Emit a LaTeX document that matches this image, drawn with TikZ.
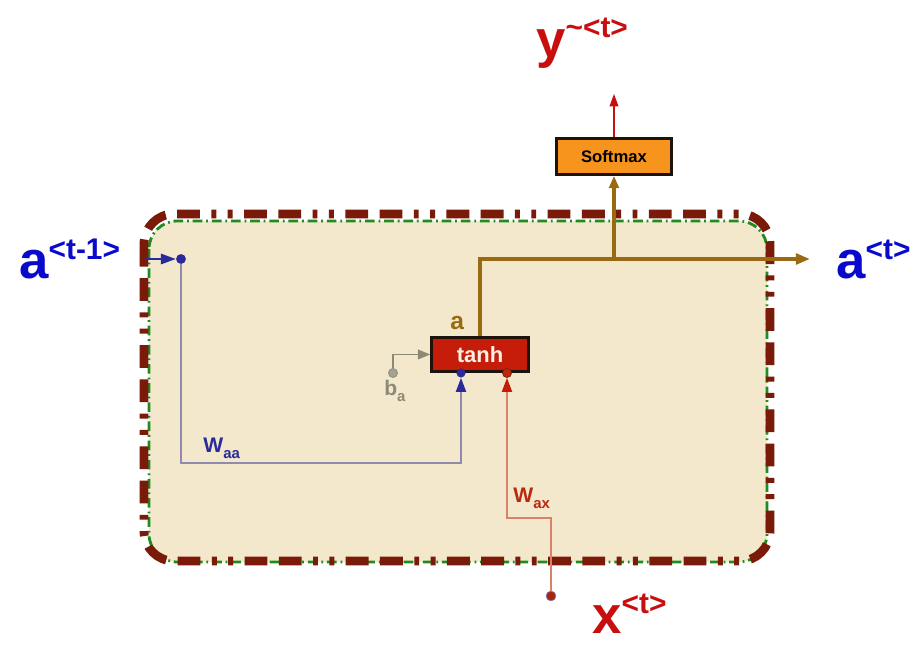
\documentclass[tikz,border=0pt]{standalone}
\usepackage{fontspec}
\setmainfont{Liberation Sans}
\usetikzlibrary{arrows.meta, positioning, calc}
\definecolor{cellfill}{HTML}{F3E8CB}
\definecolor{cellrim}{HTML}{7A1A08}
\definecolor{cellgreen}{HTML}{1E8C1E}
\definecolor{tanhred}{HTML}{C51D0A}
\definecolor{softorange}{HTML}{F7941D}
\definecolor{actbrown}{HTML}{9A6A12}
\definecolor{hidblue}{HTML}{0A0ACC}
\definecolor{wblue}{HTML}{2A2A9A}
\definecolor{waaline}{HTML}{8F8AAE}
\definecolor{xred}{HTML}{C80F0F}
\definecolor{biasgray}{HTML}{8C8A76}
\definecolor{waxred}{HTML}{B82A10}
\definecolor{waxline}{HTML}{D9826B}
\newcommand{\biglab}[3][10.5pt]{{\fontsize{30}{32}\selectfont\bfseries #2}\raisebox{#1}{\fontsize{17}{18}\selectfont\bfseries #3}}
\newcommand{\wlab}[2]{{\fontsize{12}{14}\selectfont\bfseries #1}\raisebox{-3.5pt}{\fontsize{8.5}{10}\selectfont\bfseries #2}}
\tikzset{
    rim/.style={cellrim, line width=5pt, rounded corners=17pt,
        dash pattern=on 13pt off 6.5pt on 13pt off 6.5pt on 2.8pt off 6.5pt on 2.8pt off 6.5pt},
    inner rim/.style={cellgreen, line width=1.6pt, rounded corners=16pt, fill=cellfill,
        dash pattern=on 5.5pt off 2.2pt on 1pt off 2.2pt},
    gate/.style={draw=black!85!brown, line width=1.6pt, font=\bfseries},
    dot/.style={circle, inner sep=0pt, minimum size=5.2pt},
    lab/.style={anchor=base west, inner sep=0pt},
    % thin feeds into the cell
    feed/.style={line width=0.9pt},
    act/.style={actbrown, line width=2.2pt},
}
\begin{document}
\begin{tikzpicture}[x=0.02cm, y=-0.02cm]
    \useasboundingbox (0,0) rectangle (921,646);

    \draw[inner rim] (149,221) rectangle (767,562);
    \draw[rim] (144,214) rectangle (770,561);

    \node[gate, fill=tanhred, text=white!90!orange, minimum width=55pt, minimum height=19.3pt,
        font=\fontsize{12.5}{14}\selectfont\bfseries] (tanh) at (480,354.5) {tanh};
    \node[gate, fill=softorange, minimum width=65pt, minimum height=20.4pt,
        font=\fontsize{9.5}{11}\selectfont\bfseries] (soft) at (614,156.5) {Softmax};

    \node[dot, fill=wblue, minimum size=5.6pt] (aprev) at (181,259) {};
    \node[dot, fill=wblue] (inaa) at (461,373) {};
    \node[dot, fill=waxred, draw=waxred!70!black, line width=0.4pt] (inax) at (507,373) {};
    \node[dot, fill=biasgray!80, draw=biasgray, line width=0.4pt] (bdot) at (393,373) {};
    \node[dot, fill=waxred!90!black, draw=wblue!60, line width=0.4pt, minimum size=5.6pt] (xin) at (551,596) {};

    \coordinate (cellin) at (145,259);
    \coordinate (waabend) at (181,463);
    \coordinate (waxbend) at (551,518);
    \coordinate (hsplit) at (614,259);
    \coordinate (aout) at (810,259);
    \coordinate (yout) at (614,94);

    \draw[feed, wblue, -{Triangle[length=8.5pt, width=6pt]}] (cellin) -- (aprev);
    \draw[feed, waaline, -{Triangle[length=8pt, width=5.8pt, color=wblue]}] (aprev) -- (waabend) -| (inaa);
    \draw[feed, biasgray, -{Triangle[length=7pt, width=5.5pt]}] (bdot) |- (tanh.west);
    \draw[feed, waxline, -{Triangle[length=8pt, width=5.8pt, color=tanhred]}] (xin) -- (waxbend) -| (inax);

    \draw[act, -{Triangle[length=8pt, width=6pt]}] (tanh.north) |- (aout);
    \draw[act, -{Triangle[length=7pt, width=5.5pt]}] (hsplit) -- (soft.south);
    \draw[xred, line width=0.6pt, -{Triangle[length=7pt, width=5pt]}] (soft.north) -- (yout);

    \node[lab, text=actbrown, font=\fontsize{14}{16}\selectfont\bfseries] (alab) at (450,329) {a};
    \node[lab, text=wblue] (waalab) at (203,452) {\wlab{W}{aa}};
    \node[lab, text=biasgray] (blab) at (384,395) {\wlab{b}{a}};
    \node[lab, text=waxred] (waxlab) at (513,502) {\wlab{W}{ax}};

    \node[lab, text=hidblue] (aprevlab) at (19,278) {\biglab{a}{<t-1>}};
    \node[lab, text=hidblue] (anextlab) at (836,278) {\biglab{a}{<t>}};
    \node[lab, text=xred] (xlab) at (592,633) {\biglab[11pt]{x}{<t>}};
    \node[lab, text=xred] (ylab) at (536,57) {\biglab[11pt]{y}{\textasciitilde<t>}};
\end{tikzpicture}
\end{document}
